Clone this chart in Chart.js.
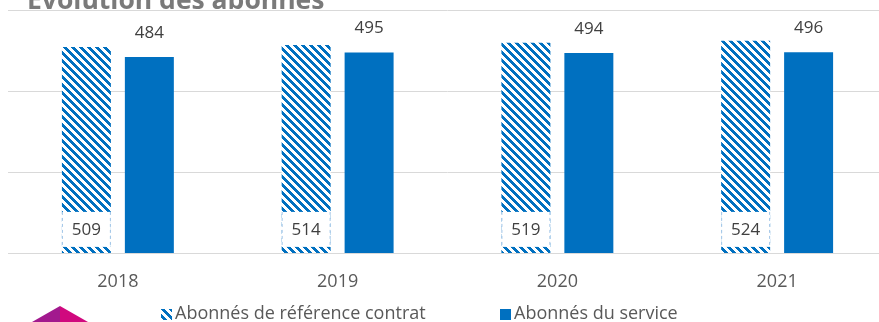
<!DOCTYPE html>
<html>
<head>
<meta charset="utf-8">
<script src="https://cdn.jsdelivr.net/npm/chart.js@4.4.1/dist/chart.umd.min.js"></script>
<style>
  html, body { margin: 0; padding: 0; background: #fff; overflow: hidden; }
  #wrap { position: relative; width: 879px; height: 322px; overflow: hidden; }
  #title {
    position: absolute; left: 27px; top: -14px; white-space: nowrap;
    font: bold 26.5px "Open Sans", sans-serif; line-height: 26px; color: #7a7a7a;
  }
  #legend {
    position: absolute; top: 301px; left: 0; width: 879px; height: 22px;
    font: 18px "Open Sans", sans-serif; color: #595959;
  }
  #legend span.item { position: absolute; top: 0; white-space: nowrap; line-height: 22px; }
  #legend canvas { vertical-align: -1px; margin-right: 3px; }
  #logo { position: absolute; left: 0; top: 300px; }
</style>
</head>
<body>
<div id="wrap">
  <canvas id="abonnesChart" width="887" height="322"></canvas>
  <div id="title">Évolution des abonnés</div>
  <div id="legend"></div>
  <svg id="logo" width="120" height="22">
    <polygon points="60,6 32,22 60,22" fill="#a2198e"/>
    <polygon points="60,6 88,22 60,22" fill="#d0097e"/>
  </svg>
</div>
<script>
const years = ['2018', '2019', '2020', '2021'];
const abonnesContrat = [509, 514, 519, 524];
const abonnesService = [484, 495, 494, 496];
const seriesNames = ['Abonnés de référence contrat', 'Abonnés du service'];
const yTicks = [0, 200, 400, 600];

const blue = '#0070C0';

// hachures diagonales (motif 8x8)
function makeHatch() {
  const c = document.createElement('canvas');
  c.width = 8; c.height = 8;
  const g = c.getContext('2d');
  g.fillStyle = '#fff';
  g.fillRect(0, 0, 8, 8);
  g.fillStyle = blue;
  for (let y = 0; y < 8; y++) {
    for (let x = 0; x < 8; x++) {
      if (((x - y) % 8 + 8) % 8 < 4) g.fillRect(x, y, 1, 1);
    }
  }
  return c;
}
const hatchTile = makeHatch();
const ctx = document.getElementById('abonnesChart').getContext('2d');
const hatch = ctx.createPattern(hatchTile, 'repeat');

// étiquettes : dans la barre hachurée (fond blanc), au-dessus de la barre pleine
const valueLabels = {
  id: 'valueLabels',
  afterDatasetsDraw(chart) {
    const c = chart.ctx;
    c.save();
    c.font = '17px "Open Sans", sans-serif';
    c.textAlign = 'center';
    c.textBaseline = 'middle';
    c.fillStyle = '#404040';

    chart.getDatasetMeta(0).data.forEach((bar, i) => {
      const half = bar.width / 2;
      const left = bar.x - half, right = bar.x + half;
      const yb = bar.base;
      c.fillStyle = '#fff';
      c.fillRect(left, yb - 41, right - left, 35);
      c.strokeStyle = '#9dc3e6';
      c.lineWidth = 1;
      c.setLineDash([3, 3]);
      c.beginPath();
      c.moveTo(left + 0.5, yb - 41); c.lineTo(left + 0.5, yb - 6);
      c.moveTo(right - 0.5, yb - 41); c.lineTo(right - 0.5, yb - 6);
      c.stroke();
      c.setLineDash([]);
      c.fillStyle = '#404040';
      c.fillText(String(chart.data.datasets[0].data[i]), bar.x, yb - 23);
    });

    chart.getDatasetMeta(1).data.forEach((bar, i) => {
      c.fillText(String(chart.data.datasets[1].data[i]), bar.x, bar.y - 24);
    });
    c.restore();
  }
};

const chart = new Chart(ctx, {
  type: 'bar',
  data: {
    labels: years,
    datasets: [
      {
        label: seriesNames[0],
        data: abonnesContrat,
        backgroundColor: hatch,
        borderWidth: 0,
        categoryPercentage: 0.573,
        barPercentage: 0.778
      },
      {
        label: seriesNames[1],
        data: abonnesService,
        backgroundColor: blue,
        borderWidth: 0,
        categoryPercentage: 0.573,
        barPercentage: 0.778
      }
    ]
  },
  options: {
    responsive: false,
    animation: false,
    layout: { padding: { left: 8, top: 10, right: 0, bottom: 19 } },
    plugins: {
      legend: { display: false },
      tooltip: { enabled: false }
    },
    scales: {
      x: {
        grid: { display: false },
        border: { color: '#d9d9d9', width: 1 },
        ticks: {
          color: '#595959',
          padding: 10,
          font: { family: 'Open Sans', size: 18 }
        }
      },
      y: {
        min: yTicks[0],
        max: yTicks[yTicks.length - 1],
        afterBuildTicks: (axis) => { axis.ticks = yTicks.map(v => ({ value: v })); },
        ticks: { display: false },
        grid: { color: '#d9d9d9', drawTicks: false },
        border: { display: false }
      }
    }
  },
  plugins: [valueLabels]
});

// légende HTML
const legendEl = document.getElementById('legend');
const legendX = [161, 500];
chart.data.datasets.forEach((ds, i) => {
  const item = document.createElement('span');
  item.className = 'item';
  item.style.left = legendX[i] + 'px';
  const sw = document.createElement('canvas');
  sw.width = 11; sw.height = 11;
  const g = sw.getContext('2d');
  g.fillStyle = i === 0 ? g.createPattern(hatchTile, 'repeat') : ds.backgroundColor;
  g.fillRect(0, 0, 11, 11);
  item.appendChild(sw);
  item.appendChild(document.createTextNode(ds.label));
  legendEl.appendChild(item);
});
</script>
</body>
</html>
